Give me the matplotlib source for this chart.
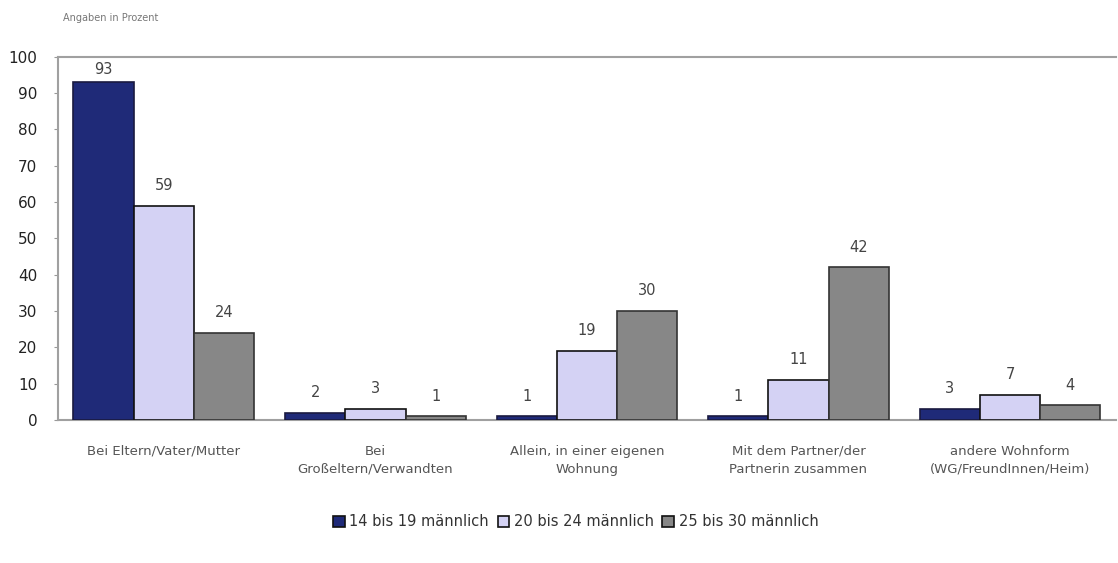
import matplotlib
matplotlib.use("Agg")
import matplotlib.pyplot as plt
import numpy as np
from matplotlib.patches import Patch

categories = ["Bei Eltern/Vater/Mutter", "Bei\nGroßeltern/Verwandten",
              "Allein, in einer eigenen\nWohnung", "Mit dem Partner/der\nPartnerin zusammen",
              "andere Wohnform\n(WG/FreundInnen/Heim)"]
series_names = ["14 bis 19 männlich", "20 bis 24 männlich", "25 bis 30 männlich"]
s1 = [93, 2, 1, 1, 3]
s2 = [59, 3, 19, 11, 7]
s3 = [24, 1, 30, 42, 4]
yticks = list(range(0, 101, 10))

colors = ["#1f2a78", "#d4d2f4", "#878787"]
edges = ["#1a1a40", "#111111", "#333333"]

fig = plt.figure(figsize=(11.18, 5.63), dpi=100)
ax = fig.add_axes([0.052, 0.254, 0.946, 0.645])

x = np.arange(len(categories))
w = 0.285
for i, (vals, c, ec) in enumerate(zip([s1, s2, s3], colors, edges)):
    pos = x + (i - 1) * w
    ax.bar(pos, vals, width=w, color=c, edgecolor=ec, linewidth=1.2, zorder=3)
    for p, v in zip(pos, vals):
        off = 1.5 if v > 90 else 3.5
        ax.text(p, v + off, str(v), ha="center", va="bottom", fontsize=10.5, color="#444444")

ax.set_xlim(-0.5, len(categories) - 0.5)
ax.set_ylim(0, 100)
ax.set_yticks(yticks)
ax.tick_params(axis="y", labelsize=11, length=3, color="#999999", labelcolor="#222222", pad=12)
ax.set_xticks(x)
ax.set_xticklabels(categories, fontsize=9.5, color="#555555", linespacing=1.5)
ax.tick_params(axis="x", length=0, pad=18)
for s in ["left", "bottom", "top"]:
    ax.spines[s].set_color("#a0a0a0")
    ax.spines[s].set_linewidth(1.5)
ax.spines["right"].set_visible(False)

fig.text(0.056, 0.968, "Angaben in Prozent", fontsize=7, color="#777777", ha="left", va="center")

handles = [Patch(facecolor=c, edgecolor="#111111", linewidth=1.2) for c in colors]
fig.legend(handles, series_names, loc="center", bbox_to_anchor=(0.515, 0.073), ncol=3,
           frameon=False, fontsize=10.5, handlelength=0.8, handleheight=0.8,
           handletextpad=0.3, columnspacing=0.6, labelcolor="#333333")

fig.savefig("out.png", dpi=100)
